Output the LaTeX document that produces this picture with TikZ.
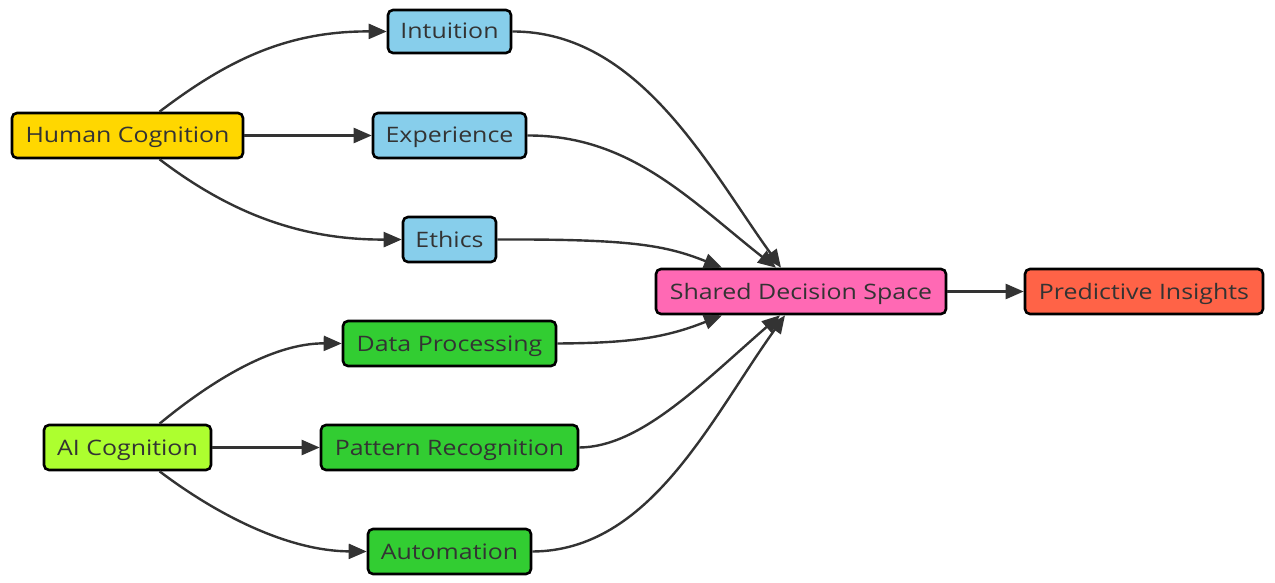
\documentclass[tikz,border=0pt]{standalone}
\usepackage{fontspec}
\setmainfont[FakeStretch=1.17]{Open Sans}
\usetikzlibrary{arrows.meta,calc}
\definecolor{txt}{HTML}{333333}
\definecolor{ln}{HTML}{333333}
\definecolor{cyel}{HTML}{FFD700}
\definecolor{cblue}{HTML}{87CEEB}
\definecolor{cpink}{HTML}{FF69B4}
\definecolor{ctom}{HTML}{FF6347}
\definecolor{cgreen}{HTML}{32CD32}
\definecolor{clime}{HTML}{ADFF2F}
\tikzset{
  box/.style={draw=black, line width=2.6pt, rounded corners=5pt, minimum height=45pt,
    inner sep=0pt, text=txt, font=\fontsize{21.3}{24}\selectfont, text height=15pt, text depth=0pt},
  conn/.style={draw=ln, line width=2.4pt, -{Triangle[length=18pt,width=15pt]}},
}
\begin{document}
\begin{tikzpicture}[x=1pt,y=-1pt]
\useasboundingbox (0,0) rectangle (1275,583);
\node[box, fill=cyel, minimum width=231pt] (hc) at (127.5,135.5) {Human Cognition};
\node[box, fill=cblue, minimum width=123pt, minimum height=43pt] (int) at (449.5,31.5) {Intuition};
\node[box, fill=cblue, minimum width=153pt] (exp) at (449.5,135.5) {Experience};
\node[box, fill=cblue, minimum width=93pt] (eth) at (449.5,239.5) {Ethics};
\node[box, fill=cpink, minimum width=290pt] (sds) at (801,291.5) {Shared Decision Space};
\node[box, fill=ctom, minimum width=238pt] (pi) at (1144,291.5) {Predictive Insights};
\node[box, fill=cgreen, minimum width=213pt] (dp) at (449.5,343.5) {Data Processing};
\node[box, fill=cgreen, minimum width=257pt] (pr) at (449.5,447.5) {Pattern Recognition};
\node[box, fill=cgreen, minimum width=163pt] (aut) at (449.5,551.5) {Automation};
\node[box, fill=clime, minimum width=167pt] (ai) at (127.5,447.5) {AI Cognition};

\draw[conn] ([xshift=32pt]hc.north) .. controls (225,62) and (285,31) .. (int.west);
\draw[conn] (hc.east) -- (exp.west);
\draw[conn] ([xshift=32pt]hc.south) .. controls (225,209) and (295,240) .. (eth.west);
\draw[conn] ([xshift=32pt]ai.north) .. controls (215,378) and (275,343) .. (dp.west);
\draw[conn] (ai.east) -- (pr.west);
\draw[conn] ([xshift=32pt]ai.south) .. controls (220,517) and (290,551) .. (aut.west);

\draw[conn] (int.east) .. controls (640,31) and (710,170) .. ([xshift=-20pt]sds.north);
\draw[conn] (exp.east) .. controls (630,135) and (690,200) .. ([xshift=-25pt]sds.north);
\draw[conn] (eth.east) .. controls (630,239) and (665,245) .. ([xshift=-79pt]sds.north);
\draw[conn] (dp.east) .. controls (630,343) and (665,338) .. ([xshift=-79pt]sds.south);
\draw[conn] (pr.east) .. controls (640,447) and (700,385) .. ([xshift=-21pt]sds.south);
\draw[conn] (aut.east) .. controls (650,551) and (710,420) .. ([xshift=-16pt]sds.south);
\draw[conn] (sds.east) -- (pi.west);
\end{tikzpicture}
\end{document}
